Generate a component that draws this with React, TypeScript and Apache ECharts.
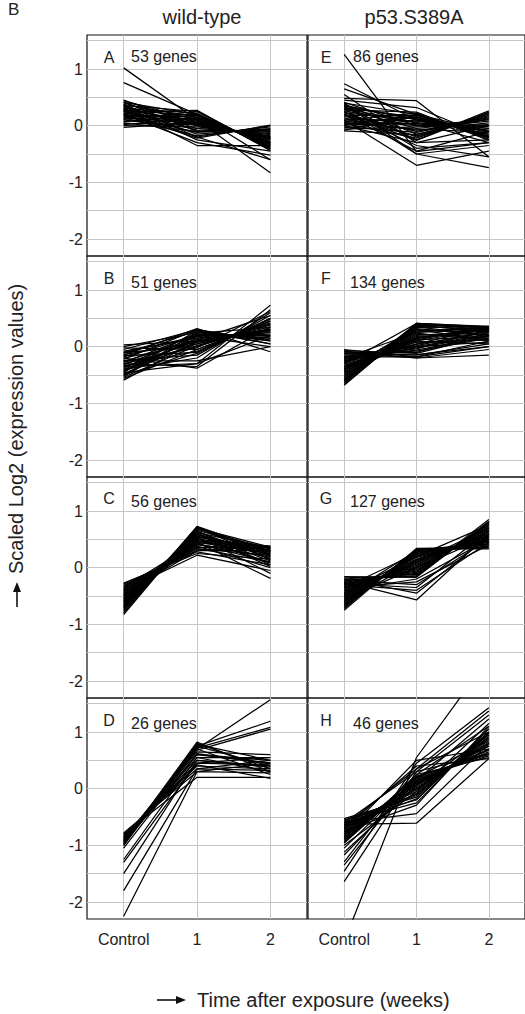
import React, { useEffect, useRef } from "react";
import * as echarts from "echarts";

// Time points (x positions: 0 = Control, 1 = week 1, 2 = week 2)
const timeLabels = ["Control", "1", "2"];
const yLabelValues = [-2, -1, 0, 1];
const yGridValues = [-2, -1.5, -1, -0.5, 0, 0.5, 1, 1.5];
const columnTitles = ["wild-type", "p53.S389A"];
const panelLetters = ["A", "B", "C", "D", "E", "F", "G", "H"];
const geneCounts = [53, 51, 56, 26, 86, 134, 127, 46];

// Each gene: [Control, week 1, week 2]
const panelA = [
  [0.45, 0.0, -0.2], [0.44, 0.1, -0.3], [0.42, -0.1, -0.08], [0.41, 0.2, -0.38],
  [0.4, 0.05, -0.22], [0.38, -0.2, 0.0], [0.37, 0.15, -0.33], [0.36, 0.25, -0.42],
  [0.35, -0.05, -0.12], [0.33, 0.12, -0.3], [0.32, 0.02, -0.2], [0.3, 0.22, -0.4],
  [0.3, -0.15, -0.05], [0.28, 0.08, -0.25], [0.27, 0.18, -0.35], [0.26, -0.08, -0.1],
  [0.25, 0.0, -0.18], [0.24, 0.27, -0.44], [0.22, 0.1, -0.28], [0.21, -0.22, 0.01],
  [0.2, 0.05, -0.23], [0.19, 0.15, -0.32], [0.18, -0.12, -0.06], [0.16, 0.2, -0.37],
  [0.15, 0.03, -0.2], [0.14, -0.18, -0.02], [0.12, 0.12, -0.3], [0.11, 0.25, -0.4],
  [0.1, -0.05, -0.14], [0.08, 0.08, -0.26], [0.07, 0.18, -0.34], [0.05, -0.1, -0.08],
  [0.04, 0.02, -0.2], [0.02, 0.14, -0.3], [0.0, -0.02, -0.16], [-0.03, 0.06, -0.22],
  [1.02, 0.1, -0.83], [0.76, 0.2, -0.6], [0.3, -0.35, -0.35], [0.2, -0.3, -0.52],
  [0.35, -0.25, -0.45], [0.25, -0.2, -0.6],
];

const panelB = [
  [0.03, 0.1, 0.3], [0.0, 0.25, 0.15], [-0.02, -0.05, 0.45], [-0.05, 0.3, 0.1],
  [-0.08, 0.15, 0.25], [-0.1, 0.0, 0.4], [-0.12, 0.28, 0.12], [-0.14, 0.08, 0.3],
  [-0.16, -0.1, 0.5], [-0.18, 0.2, 0.2], [-0.2, 0.05, 0.35], [-0.22, 0.3, 0.05],
  [-0.24, -0.15, 0.55], [-0.26, 0.12, 0.28], [-0.28, 0.22, 0.18], [-0.3, 0.0, 0.42],
  [-0.32, 0.18, 0.22], [-0.34, -0.08, 0.48], [-0.36, 0.1, 0.3], [-0.38, 0.25, 0.1],
  [-0.4, -0.2, 0.6], [-0.42, 0.05, 0.38], [-0.44, 0.15, 0.25], [-0.46, -0.3, 0.73],
  [-0.48, 0.08, 0.32], [-0.5, -0.12, 0.5], [-0.52, 0.2, 0.15], [-0.54, 0.02, 0.4],
  [-0.56, -0.05, 0.45], [-0.59, 0.1, 0.28], [-0.2, -0.38, 0.35], [-0.3, -0.35, 0.65],
  [-0.35, -0.3, 0.2], [-0.25, -0.25, 0.0], [-0.15, 0.32, -0.09], [-0.45, 0.28, 0.05],
  [-0.1, 0.18, 0.0], [-0.4, 0.12, 0.55], [-0.27, -0.02, 0.62], [-0.5, 0.24, 0.34],
];

const panelC = [
  [-0.27, 0.25, 0.15], [-0.29, 0.3, 0.3], [-0.31, 0.28, 0.05], [-0.33, 0.33, 0.22],
  [-0.35, 0.36, 0.35], [-0.37, 0.34, 0.1], [-0.39, 0.4, 0.28], [-0.41, 0.38, 0.0],
  [-0.43, 0.44, 0.32], [-0.45, 0.42, 0.18], [-0.47, 0.48, 0.25], [-0.49, 0.46, 0.36],
  [-0.51, 0.52, 0.08], [-0.53, 0.5, 0.3], [-0.55, 0.56, 0.2], [-0.57, 0.54, 0.34],
  [-0.59, 0.6, 0.12], [-0.61, 0.58, 0.27], [-0.63, 0.62, 0.35], [-0.65, 0.64, 0.16],
  [-0.67, 0.66, 0.3], [-0.69, 0.65, 0.05], [-0.71, 0.7, 0.24], [-0.73, 0.68, 0.33],
  [-0.75, 0.72, 0.2], [-0.77, 0.7, 0.36], [-0.8, 0.73, 0.28], [-0.83, 0.71, 0.14],
  [-0.4, 0.22, -0.05], [-0.5, 0.45, -0.19], [-0.6, 0.55, -0.1], [-0.45, 0.3, 0.38],
  [-0.55, 0.6, 0.02], [-0.65, 0.5, 0.38], [-0.35, 0.45, 0.25], [-0.7, 0.6, 0.22],
  [-0.48, 0.55, 0.3], [-0.58, 0.42, 0.1],
];

const panelD = [
  [-0.78, 0.3, 0.45], [-0.8, 0.35, 0.5], [-0.82, 0.4, 0.35], [-0.84, 0.45, 0.55],
  [-0.86, 0.5, 0.4], [-0.88, 0.55, 0.3], [-0.9, 0.6, 0.45], [-0.92, 0.65, 0.6],
  [-0.94, 0.7, 0.25], [-0.96, 0.75, 0.4], [-0.98, 0.78, 0.5], [-1.0, 0.8, 0.35],
  [-0.8, 0.2, 0.2], [-0.95, 0.82, 0.3], [-1.05, 0.62, 0.45], [-1.25, 0.55, 0.55],
  [-1.3, 0.45, 0.42], [-1.5, 0.5, 0.38], [-1.8, 0.35, 0.32], [-2.25, 0.3, 0.28],
  [-0.88, 0.7, 1.57], [-0.92, 0.75, 1.19], [-1.0, 0.72, 1.08], [-0.9, 0.68, 1.05],
  [-0.85, 0.42, 0.18], [-0.97, 0.6, 0.5],
];

const panelE = [
  [0.41, 0.0, 0.0], [0.4, 0.2, -0.22], [0.38, -0.15, 0.12], [0.36, 0.1, -0.1],
  [0.34, -0.25, 0.26], [0.32, 0.15, -0.18], [0.3, -0.05, 0.08], [0.28, 0.24, -0.26],
  [0.26, 0.05, -0.02], [0.24, -0.2, 0.2], [0.22, 0.12, -0.15], [0.2, -0.1, 0.12],
  [0.18, 0.18, -0.2], [0.16, 0.02, 0.0], [0.14, -0.18, 0.18], [0.12, 0.08, -0.08],
  [0.1, 0.22, -0.24], [0.08, -0.08, 0.05], [0.06, 0.14, -0.12], [0.04, -0.22, 0.22],
  [0.02, 0.04, -0.05], [0.0, 0.2, -0.2], [-0.02, -0.12, 0.14], [-0.04, 0.1, -0.1],
  [-0.06, -0.02, 0.02], [-0.08, 0.16, -0.16], [-0.09, -0.16, 0.16], [0.3, 0.06, -0.3],
  [0.2, -0.26, 0.24], [0.1, 0.0, 0.1], [0.35, 0.12, -0.05], [0.05, -0.06, -0.12],
  [1.26, -0.46, -0.3], [0.74, 0.1, -0.2], [0.65, 0.2, -0.1], [0.55, -0.3, 0.0],
  [0.48, 0.44, -0.55], [0.45, 0.32, -0.2], [0.3, -0.5, -0.35], [0.2, -0.45, -0.1],
  [0.1, -0.7, -0.45], [0.4, -0.5, -0.74], [0.25, -0.35, -0.55], [0.35, -0.4, -0.3],
  [0.0, -0.3, -0.25],
];

const panelF = [
  [-0.05, -0.18, 0.1], [-0.07, -0.12, 0.2], [-0.09, -0.15, 0.05], [-0.11, -0.1, 0.25],
  [-0.13, -0.08, 0.15], [-0.15, -0.14, 0.0], [-0.17, -0.04, 0.3], [-0.19, -0.06, 0.18],
  [-0.21, 0.0, 0.08], [-0.23, 0.02, 0.28], [-0.25, -0.02, 0.2], [-0.27, 0.05, 0.34],
  [-0.29, 0.08, 0.12], [-0.31, 0.04, 0.25], [-0.33, 0.1, 0.32], [-0.35, 0.12, 0.18],
  [-0.37, 0.09, 0.05], [-0.39, 0.16, 0.3], [-0.41, 0.18, 0.22], [-0.43, 0.14, 0.36],
  [-0.45, 0.22, 0.15], [-0.47, 0.2, 0.28], [-0.49, 0.26, 0.34], [-0.51, 0.24, 0.1],
  [-0.53, 0.3, 0.25], [-0.55, 0.28, 0.33], [-0.57, 0.32, 0.2], [-0.59, 0.36, 0.3],
  [-0.61, 0.34, 0.36], [-0.63, 0.38, 0.26], [-0.65, 0.41, 0.32], [-0.67, 0.38, 0.35],
  [-0.68, 0.4, 0.3], [-0.3, 0.41, 0.35], [-0.6, 0.41, 0.36], [-0.2, 0.25, 0.3],
  [-0.4, 0.3, 0.12], [-0.12, -0.2, -0.15], [-0.18, -0.18, 0.0], [-0.08, -0.2, -0.05],
  [-0.35, 0.0, 0.22], [-0.5, 0.15, 0.3], [-0.25, 0.12, 0.35], [-0.45, 0.35, 0.2],
];

const panelG = [
  [-0.16, -0.17, 0.82], [-0.18, -0.15, 0.8], [-0.2, -0.12, 0.78], [-0.22, -0.14, 0.85],
  [-0.24, -0.1, 0.76], [-0.26, -0.06, 0.72], [-0.28, -0.08, 0.79], [-0.3, -0.04, 0.7],
  [-0.32, 0.0, 0.66], [-0.34, -0.02, 0.74], [-0.36, 0.02, 0.64], [-0.38, 0.04, 0.68],
  [-0.4, 0.06, 0.6], [-0.42, 0.08, 0.63], [-0.44, 0.1, 0.56], [-0.46, 0.12, 0.6],
  [-0.48, 0.14, 0.52], [-0.5, 0.15, 0.57], [-0.52, 0.18, 0.48], [-0.54, 0.2, 0.52],
  [-0.56, 0.21, 0.45], [-0.58, 0.23, 0.49], [-0.6, 0.25, 0.42], [-0.62, 0.27, 0.46],
  [-0.64, 0.28, 0.38], [-0.66, 0.3, 0.42], [-0.68, 0.31, 0.35], [-0.7, 0.32, 0.4],
  [-0.72, 0.33, 0.33], [-0.75, 0.34, 0.36], [-0.2, -0.45, 0.55], [-0.25, -0.57, 0.6],
  [-0.3, -0.4, 0.45], [-0.22, -0.3, 0.5], [-0.35, -0.25, 0.4], [-0.28, -0.35, 0.65],
  [-0.4, -0.2, 0.5], [-0.45, 0.2, 0.75], [-0.55, 0.0, 0.55], [-0.6, 0.1, 0.7],
  [-0.35, 0.25, 0.5], [-0.5, 0.3, 0.45],
];

const panelH = [
  [-0.53, -0.15, 1.0], [-0.55, -0.2, 1.06], [-0.57, -0.1, 0.95], [-0.59, -0.25, 1.05],
  [-0.61, -0.05, 0.9], [-0.63, -0.12, 1.0], [-0.65, -0.18, 0.98], [-0.67, 0.0, 0.85],
  [-0.69, -0.08, 0.92], [-0.71, 0.05, 0.8], [-0.73, -0.02, 0.88], [-0.75, 0.1, 0.75],
  [-0.77, 0.02, 0.82], [-0.79, 0.12, 0.7], [-0.81, 0.06, 0.78], [-0.83, 0.15, 0.68],
  [-0.85, 0.08, 0.75], [-0.87, 0.2, 0.62], [-0.89, 0.1, 0.7], [-0.91, 0.22, 0.6],
  [-0.93, 0.14, 0.65], [-0.95, 0.25, 0.55], [-0.96, 0.18, 0.58], [-0.6, 0.3, 0.62],
  [-0.7, 0.4, 0.53], [-0.8, 0.5, 0.7], [-0.65, 0.35, 1.0], [-0.75, -0.29, 1.1],
  [-1.05, 0.2, 0.85], [-1.17, 0.15, 1.23], [-1.29, 0.35, 1.37], [-1.46, 0.45, 1.43],
  [-1.64, 0.3, 1.3], [-1.12, 0.05, 0.95], [-1.35, 0.25, 1.1], [-0.6, -0.44, 0.8],
  [-0.63, -0.61, 0.53], [-2.7, 0.55, 2.3], [-1.0, -0.05, 1.15],
];

const panels = [panelA, panelB, panelC, panelD, panelE, panelF, panelG, panelH];

const FONT = "'Liberation Sans', Arial, Helvetica, sans-serif";
const TEXT = "#222";

export default function App() {
  const ref = useRef<HTMLDivElement>(null);

  useEffect(() => {
    if (!ref.current) return;
    const chart = echarts.init(ref.current, null, { renderer: "svg" });

    const rowTops = [35, 256, 477, 698];
    const colLefts = [87, 308];
    const panelH = 221;
    const panelW = 220;

    const grids: any[] = [];
    const xAxes: any[] = [];
    const yAxes: any[] = [];
    const series: any[] = [];
    const graphics: any[] = [];

    const letterOffsets = [22, 22, 21, 22];
    const countOffsets = [21, 26, 24, 25];

    panels.forEach((genes, p) => {
      const col = p < 4 ? 0 : 1;
      const row = p % 4;
      const top = rowTops[row];
      const left = colLefts[col];
      grids.push({
        left,
        top,
        width: panelW,
        height: panelH,
        show: true,
        borderColor: "#111",
        borderWidth: 1.2,
        backgroundColor: "transparent",
      });
      xAxes.push({
        type: "value",
        gridIndex: p,
        min: -0.5,
        max: 2.5,
        axisLine: { show: false },
        axisTick: { show: false, customValues: [0, 1, 2] },
        axisLabel: {
          show: row === 3,
          customValues: [0, 1, 2],
          formatter: (v: number) => timeLabels[Math.round(v)] ?? "",
          margin: 12,
          fontSize: 16,
          color: TEXT,
          fontFamily: FONT,
        },
        splitLine: { show: true, lineStyle: { color: "#c6c6c6", width: 1 } },
      });
      yAxes.push({
        type: "value",
        gridIndex: p,
        min: -2.3,
        max: 1.6,
        axisLine: { show: false },
        axisTick: { show: false, customValues: yGridValues },
        axisLabel: {
          show: col === 0,
          customValues: yLabelValues,
          margin: 4,
          fontSize: 16,
          color: TEXT,
          fontFamily: FONT,
        },
        splitLine: { show: true, lineStyle: { color: "#c6c6c6", width: 1 } },
      });
      genes.forEach((g) => {
        series.push({
          type: "line",
          xAxisIndex: p,
          yAxisIndex: p,
          data: g.map((v, i) => [i, v]),
          symbol: "none",
          silent: true,
          clip: true,
          lineStyle: { color: "#000", width: 1.25 },
        });
      });
      const letterX = col === 0 ? 109 : 326;
      const countX = col === 0 ? 131 : (p === 5 || p === 6 ? 350 : 353);
      graphics.push({
        type: "text",
        x: letterX,
        y: top + letterOffsets[row],
        style: {
          text: panelLetters[p],
          fontSize: 16,
          fontFamily: FONT,
          fill: TEXT,
          align: "center",
          verticalAlign: "middle",
        },
        z: 10,
      });
      graphics.push({
        type: "text",
        x: countX,
        y: top + countOffsets[row],
        style: {
          text: `${geneCounts[p]} genes`,
          fontSize: 16,
          fontFamily: FONT,
          fill: TEXT,
          align: "left",
          verticalAlign: "middle",
        },
        z: 10,
      });
    });

    // Header texts
    graphics.push({
      type: "text",
      x: 8,
      y: 9,
      style: { text: "B", fontSize: 17, fontFamily: FONT, fill: TEXT, align: "left", verticalAlign: "middle" },
    });
    graphics.push({
      type: "text",
      x: 202,
      y: 17,
      style: { text: columnTitles[0], fontSize: 20, fontFamily: FONT, fill: TEXT, align: "center", verticalAlign: "middle" },
    });
    graphics.push({
      type: "text",
      x: 414,
      y: 17,
      style: { text: columnTitles[1], fontSize: 20, fontFamily: FONT, fill: TEXT, align: "center", verticalAlign: "middle" },
    });

    // X axis title with arrow
    graphics.push({
      type: "line",
      shape: { x1: 157, y1: 1000, x2: 178, y2: 1000 },
      style: { stroke: "#111", lineWidth: 1.6 },
    });
    graphics.push({
      type: "polygon",
      shape: { points: [[176, 996], [186, 1000], [176, 1004]] },
      style: { fill: "#111" },
    });
    graphics.push({
      type: "text",
      x: 197,
      y: 1000,
      style: {
        text: "Time after exposure (weeks)",
        fontSize: 20,
        fontFamily: FONT,
        fill: TEXT,
        align: "left",
        verticalAlign: "middle",
      },
    });

    // Y axis title with arrow
    graphics.push({
      type: "line",
      shape: { x1: 17, y1: 607, x2: 17, y2: 590 },
      style: { stroke: "#111", lineWidth: 1.6 },
    });
    graphics.push({
      type: "polygon",
      shape: { points: [[13, 592], [17, 582], [21, 592]] },
      style: { fill: "#111" },
    });
    graphics.push({
      type: "text",
      x: 16,
      y: 574,
      rotation: Math.PI / 2,
      style: {
        text: "Scaled Log2 (expression values)",
        fontSize: 20,
        fontFamily: FONT,
        fill: TEXT,
        align: "left",
        verticalAlign: "middle",
      },
    });

    chart.setOption({
      animation: false,
      backgroundColor: "#ffffff",
      grid: grids,
      xAxis: xAxes,
      yAxis: yAxes,
      series,
      graphic: graphics,
    });

    return () => {
      chart.dispose();
    };
  }, []);

  return (
    <div
      ref={ref}
      style={{ position: "fixed", left: 0, top: 0, width: 525, height: 1014, background: "#fff" }}
    />
  );
}
